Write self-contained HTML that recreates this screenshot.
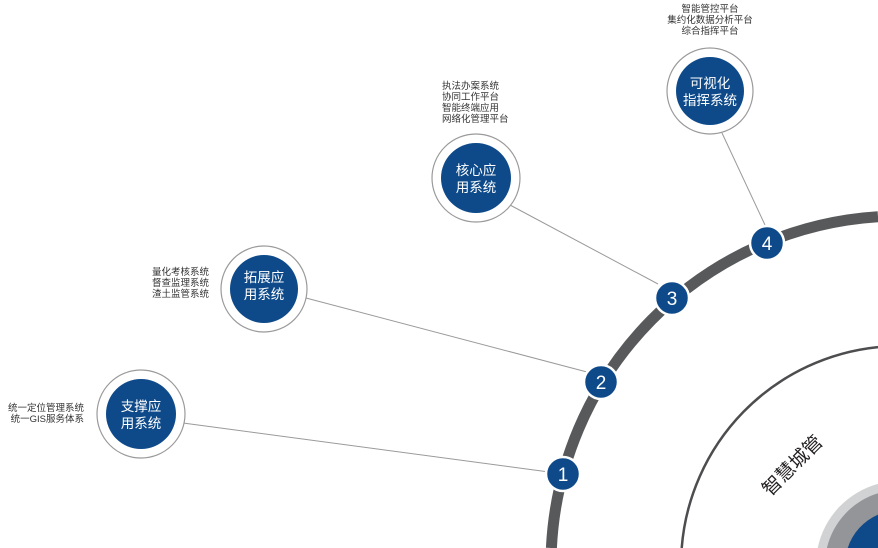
<!DOCTYPE html>
<html><head><meta charset="utf-8"><style>
html,body{margin:0;padding:0;background:#fff;width:878px;height:548px;overflow:hidden;}
svg{display:block;}
text{font-family:"Liberation Sans","Noto Sans CJK SC",sans-serif;}
</style></head><body>
<svg width="878" height="548" viewBox="0 0 878 548" xmlns="http://www.w3.org/2000/svg">
<path d="M551.4,548 A349,349 0 0 1 878,216.7" fill="none" stroke="#58595b" stroke-width="11"/>
<path d="M681.7,548 A219,219 0 0 1 878,347.1" fill="none" stroke="#4d4d4f" stroke-width="2.5"/>
<path d="M817.7,548 A84,84 0 0 1 878,483.9 L878,548 Z" fill="#d1d2d4"/>
<path d="M826.9,548 A75,75 0 0 1 878,493.3 L878,548 Z" fill="#939598"/>
<path d="M847.7,548 A55,55 0 0 1 878,514.6 L878,548 Z" fill="#0e4a8a"/>
<text x="792" y="472" font-size="19" fill="#231f20" text-anchor="middle" transform="rotate(-45 792 465)">智慧城管</text>
<g stroke="#9a9a9a" stroke-width="1">
<line x1="183" y1="423" x2="549" y2="472"/>
<line x1="306" y1="298" x2="587" y2="372"/>
<line x1="510" y1="205" x2="658" y2="284"/>
<line x1="722" y1="133" x2="765" y2="225"/>
</g>
<g>
<circle cx="141" cy="414" r="44" fill="#fff" stroke="#9a9a9a" stroke-width="1.2"/>
<circle cx="141" cy="414" r="35" fill="#0e4a8a"/>
<text x="141" y="411" font-size="13.5" fill="#fff" text-anchor="middle">支撑应</text>
<text x="141" y="428" font-size="13.5" fill="#fff" text-anchor="middle">用系统</text>

<circle cx="264" cy="289" r="43" fill="#fff" stroke="#9a9a9a" stroke-width="1.2"/>
<circle cx="264" cy="289" r="34" fill="#0e4a8a"/>
<text x="264" y="282" font-size="13.5" fill="#fff" text-anchor="middle">拓展应</text>
<text x="264" y="299" font-size="13.5" fill="#fff" text-anchor="middle">用系统</text>

<circle cx="476" cy="178" r="44" fill="#fff" stroke="#9a9a9a" stroke-width="1.2"/>
<circle cx="476" cy="178" r="35" fill="#0e4a8a"/>
<text x="476" y="175" font-size="13.5" fill="#fff" text-anchor="middle">核心应</text>
<text x="476" y="192" font-size="13.5" fill="#fff" text-anchor="middle">用系统</text>

<circle cx="710" cy="91" r="43" fill="#fff" stroke="#9a9a9a" stroke-width="1.2"/>
<circle cx="710" cy="91" r="34" fill="#0e4a8a"/>
<text x="710" y="88" font-size="13.5" fill="#fff" text-anchor="middle">可视化</text>
<text x="710" y="105" font-size="13.5" fill="#fff" text-anchor="middle">指挥系统</text>
</g>
<g font-size="19" fill="#fff" text-anchor="middle">
<circle cx="563" cy="474" r="17" fill="#0e4a8a" stroke="#fff" stroke-width="2.5"/>
<text x="563" y="481">1</text>
<circle cx="601" cy="382" r="17" fill="#0e4a8a" stroke="#fff" stroke-width="2.5"/>
<text x="601" y="389">2</text>
<circle cx="672" cy="298" r="17" fill="#0e4a8a" stroke="#fff" stroke-width="2.5"/>
<text x="672" y="305">3</text>
<circle cx="767" cy="243" r="17" fill="#0e4a8a" stroke="#fff" stroke-width="2.5"/>
<text x="767" y="250">4</text>
</g>
<g font-size="9.5" fill="#333">
<text x="84" y="411" text-anchor="end">统一定位管理系统</text>
<text x="84" y="422" text-anchor="end">统一GIS服务体系</text>
<text x="209" y="275" text-anchor="end">量化考核系统</text>
<text x="209" y="286" text-anchor="end">督查监理系统</text>
<text x="209" y="297" text-anchor="end">渣土监管系统</text>
<text x="442" y="89">执法办案系统</text>
<text x="442" y="100">协同工作平台</text>
<text x="442" y="111">智能终端应用</text>
<text x="442" y="122">网络化管理平台</text>
<text x="710" y="12" text-anchor="middle">智能管控平台</text>
<text x="710" y="23" text-anchor="middle">集约化数据分析平台</text>
<text x="710" y="34" text-anchor="middle">综合指挥平台</text>
</g>
</svg>
</body></html>
